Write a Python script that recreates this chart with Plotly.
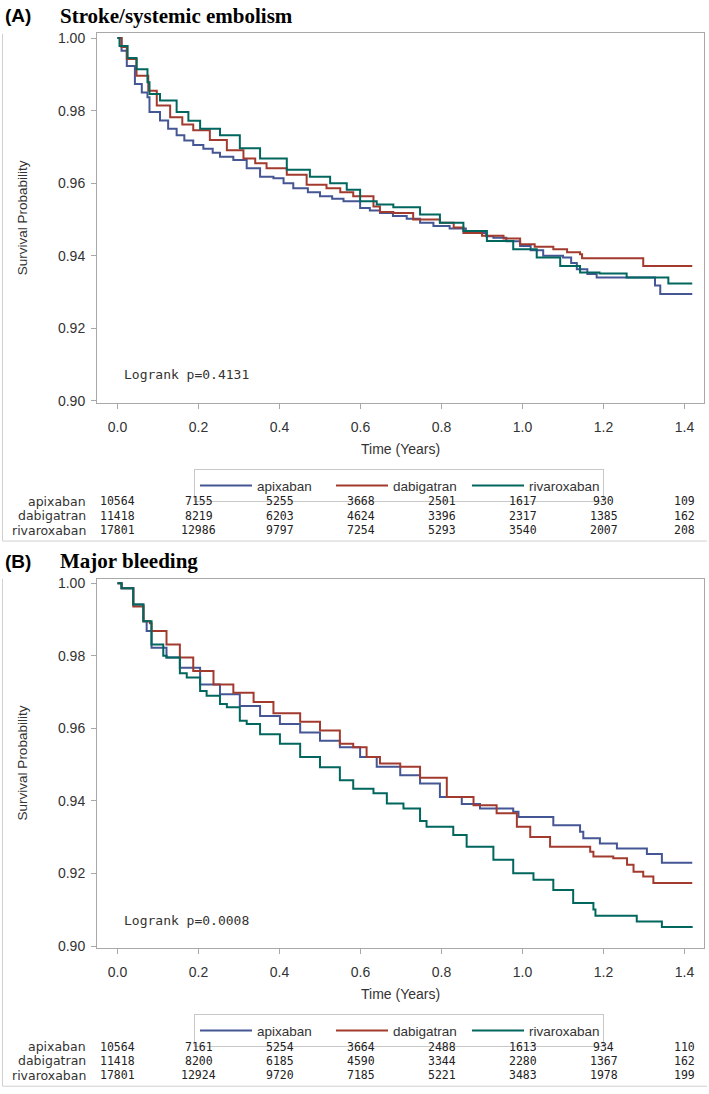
import plotly.graph_objects as go

W, H = 709, 1094


def px(x):
    return x / W


def py(y):
    return 1 - y / H


groups = ["apixaban", "dabigatran", "rivaroxaban"]
colors = ["#445694", "#A23A2E", "#01665E"]

# ---------------- Panel A: Stroke/systemic embolism ----------------
a_apix_t = [0, 0.01, 0.023, 0.043, 0.06, 0.074, 0.079, 0.105, 0.125, 0.146, 0.165, 0.187, 0.212, 0.235,
            0.253, 0.286, 0.319, 0.352, 0.385, 0.41, 0.434, 0.47, 0.5, 0.53, 0.558, 0.599, 0.623, 0.648,
            0.68, 0.714, 0.747, 0.78, 0.82, 0.86, 0.895, 0.91, 0.928, 0.96, 0.994, 1.02, 1.051, 1.1,
            1.12, 1.134, 1.16, 1.183, 1.327, 1.34, 1.419]
a_apix_s = [1.0, 0.9965, 0.9923, 0.9873, 0.9850, 0.9837, 0.9796, 0.9773, 0.9750, 0.9732, 0.9718, 0.9705,
            0.9695, 0.9684, 0.9673, 0.9664, 0.9641, 0.9618, 0.9614, 0.9600, 0.9586, 0.9575, 0.9564, 0.9557,
            0.9550, 0.9532, 0.9525, 0.9518, 0.9510, 0.9502, 0.9491, 0.9482, 0.9475, 0.9468, 0.9463, 0.9454,
            0.9450, 0.9440, 0.9427, 0.9415, 0.9400, 0.9395, 0.9380, 0.9363, 0.9350, 0.9340, 0.9318, 0.9295,
            0.9295]

a_dabi_t = [0, 0.01, 0.023, 0.047, 0.076, 0.097, 0.13, 0.16, 0.187, 0.228, 0.27, 0.311, 0.34, 0.368,
            0.418, 0.467, 0.516, 0.55, 0.582, 0.632, 0.648, 0.681, 0.73, 0.796, 0.83, 0.854, 0.9, 0.953,
            0.994, 1.03, 1.076, 1.11, 1.142, 1.147, 1.278, 1.298, 1.419]
a_dabi_s = [1.0, 0.9975, 0.9942, 0.9896, 0.9855, 0.9814, 0.9782, 0.9762, 0.9746, 0.9719, 0.9691, 0.9668,
            0.9655, 0.9641, 0.9623, 0.9596, 0.9586, 0.9575, 0.9564, 0.9536, 0.9521, 0.9518, 0.9500, 0.9491,
            0.9478, 0.9463, 0.9455, 0.9448, 0.9432, 0.9425, 0.9418, 0.9410, 0.9404, 0.9393, 0.9393, 0.9372,
            0.9372]

a_riva_t = [0, 0.005, 0.025, 0.047, 0.074, 0.079, 0.105, 0.146, 0.175, 0.204, 0.253, 0.302, 0.352, 0.418,
            0.475, 0.525, 0.566, 0.599, 0.64, 0.681, 0.747, 0.796, 0.854, 0.912, 0.977, 1.035, 1.093,
            1.142, 1.19, 1.257, 1.36, 1.419]
a_riva_s = [1.0, 0.9978, 0.9945, 0.9914, 0.9878, 0.9846, 0.9828, 0.9796, 0.9772, 0.9750, 0.9732, 0.9696,
            0.9668, 0.9637, 0.9618, 0.9600, 0.9582, 0.9550, 0.9541, 0.9534, 0.9514, 0.9491, 0.9468, 0.9441,
            0.9418, 0.9395, 0.9372, 0.9354, 0.9351, 0.9340, 0.9324, 0.9324]

# ---------------- Panel B: Major bleeding ----------------
b_apix_t = [0, 0.01, 0.039, 0.064, 0.072, 0.084, 0.121, 0.154, 0.204, 0.253, 0.302, 0.352, 0.401, 0.451,
            0.5, 0.549, 0.599, 0.64, 0.698, 0.747, 0.796, 0.85, 0.895, 0.977, 0.99, 1.076, 1.142, 1.15,
            1.191, 1.233, 1.307, 1.344, 1.419]
b_apix_s = [1.0, 0.9986, 0.9941, 0.9895, 0.9868, 0.9822, 0.9795, 0.9767, 0.9721, 0.9694, 0.9662, 0.9634,
            0.9612, 0.9589, 0.9566, 0.9548, 0.9521, 0.9494, 0.9471, 0.9448, 0.9411, 0.9392, 0.9379, 0.9370,
            0.9356, 0.9333, 0.9315, 0.9297, 0.9283, 0.9269, 0.9254, 0.9230, 0.9230]

b_dabi_t = [0, 0.01, 0.039, 0.064, 0.08, 0.084, 0.121, 0.154, 0.187, 0.237, 0.286, 0.336, 0.385, 0.451,
            0.5, 0.549, 0.582, 0.615, 0.648, 0.698, 0.747, 0.813, 0.879, 0.936, 0.986, 1.019, 1.068, 1.167,
            1.175, 1.224, 1.258, 1.274, 1.298, 1.323, 1.419]
b_dabi_s = [1.0, 0.9986, 0.9936, 0.9895, 0.9890, 0.9868, 0.9831, 0.9795, 0.9758, 0.9721, 0.9698, 0.9673,
            0.9642, 0.9618, 0.9594, 0.9558, 0.9548, 0.9521, 0.9503, 0.9494, 0.9464, 0.9411, 0.9388, 0.9366,
            0.9329, 0.9301, 0.9274, 0.9260, 0.9247, 0.9242, 0.9224, 0.9205, 0.9192, 0.9174, 0.9174]

b_riva_t = [0, 0.01, 0.039, 0.064, 0.084, 0.113, 0.121, 0.154, 0.171, 0.204, 0.22, 0.253, 0.27, 0.302,
            0.319, 0.352, 0.401, 0.451, 0.5, 0.549, 0.582, 0.632, 0.665, 0.706, 0.747, 0.763, 0.829, 0.862,
            0.928, 0.977, 1.027, 1.076, 1.125, 1.175, 1.18, 1.282, 1.344, 1.42]
b_riva_s = [1.0, 0.9986, 0.9941, 0.9895, 0.9831, 0.9800, 0.9795, 0.9752, 0.9740, 0.9703, 0.9690, 0.9667,
            0.9658, 0.9621, 0.9612, 0.9584, 0.9558, 0.9521, 0.9493, 0.9457, 0.9434, 0.9421, 0.9393, 0.9379,
            0.9345, 0.9329, 0.9306, 0.9274, 0.9238, 0.9201, 0.9183, 0.9155, 0.9119, 0.9101, 0.9084, 0.9068,
            0.9053, 0.9053]

# ---------------- Numbers at risk ----------------
risk_times = [0.0, 0.2, 0.4, 0.6, 0.8, 1.0, 1.2, 1.4]
a_risk_apix = [10564, 7155, 5255, 3668, 2501, 1617, 930, 109]
a_risk_dabi = [11418, 8219, 6203, 4624, 3396, 2317, 1385, 162]
a_risk_riva = [17801, 12986, 9797, 7254, 5293, 3540, 2007, 208]
b_risk_apix = [10564, 7161, 5254, 3664, 2488, 1613, 934, 110]
b_risk_dabi = [11418, 8200, 6185, 4590, 3344, 2280, 1367, 162]
b_risk_riva = [17801, 12924, 9720, 7185, 5221, 3483, 1978, 199]

y_ticks = [0.90, 0.92, 0.94, 0.96, 0.98, 1.00]
titles = ["Stroke/systemic embolism", "Major bleeding"]
labels = ["(A)", "(B)"]
pvalues = ["Logrank p=0.4131", "Logrank p=0.0008"]

panels = [
    dict(curves=[(a_apix_t, a_apix_s), (a_dabi_t, a_dabi_s), (a_riva_t, a_riva_s)],
         risk=[a_risk_apix, a_risk_dabi, a_risk_riva], off=0.0),
    dict(curves=[(b_apix_t, b_apix_s), (b_dabi_t, b_dabi_s), (b_riva_t, b_riva_s)],
         risk=[b_risk_apix, b_risk_dabi, b_risk_riva], off=549.7),
]

fig = go.Figure()
annotations = []
shapes = []
TXT = "#333333"
AX = "#a8a8a8"
SANS = "Liberation Sans, Arial, sans-serif"

for i, p in enumerate(panels):
    sfx = "" if i == 0 else str(i + 1)
    off = p["off"]
    for g, (t, s), c in zip(groups, p["curves"], colors):
        fig.add_trace(go.Scatter(
            x=t, y=s, mode="lines", line=dict(color=c, width=2, shape="hv"),
            name=g, xaxis="x" + sfx, yaxis="y" + sfx,
            legend="legend" + sfx, showlegend=True, hoverinfo="skip"))

    ax = dict(range=[-0.0506, 1.448], domain=[px(97), px(704)], anchor="y" + sfx,
              tickvals=risk_times, tickformat=".1f", ticks="outside", ticklen=5,
              tickcolor=AX, tickwidth=1, showline=True, mirror=True, linecolor=AX,
              linewidth=1, showgrid=False, zeroline=False, ticklabelstandoff=6,
              tickfont=dict(family=SANS, size=14, color=TXT))
    ay = dict(range=[0.89945, 1.00126], domain=[py(403.3 + off), py(30.7 + off)],
              anchor="x" + sfx, tickvals=y_ticks, tickformat=".2f", ticks="outside",
              ticklen=5, tickcolor=AX, tickwidth=1, showline=True, mirror=True,
              linecolor=AX, linewidth=1, showgrid=False, zeroline=False,
              ticklabelstandoff=3, tickfont=dict(family=SANS, size=14, color=TXT))
    fig.update_layout({"xaxis" + sfx: ax, "yaxis" + sfx: ay})

    fig.update_layout({"legend" + sfx: dict(
        orientation="h", x=px(194), xanchor="left", y=py(470 + off), yanchor="top",
        bordercolor="#c8c8c8", borderwidth=1, bgcolor="white", itemwidth=52,
        entrywidth=69, entrywidthmode="pixels",
        font=dict(family=SANS, size=13.5, color=TXT), itemclick=False,
        itemdoubleclick=False, tracegroupgap=0)})

    # panel heading
    annotations.append(dict(text="<b>" + labels[i] + "</b>", xref="paper", yref="paper",
                            x=px(3), y=py(13 + off), xanchor="left", yanchor="middle",
                            showarrow=False, font=dict(family=SANS, size=19, color="black")))
    annotations.append(dict(text="<b>" + titles[i] + "</b>", xref="paper", yref="paper",
                            x=px(58), y=py(13 + off), xanchor="left", yanchor="middle",
                            showarrow=False,
                            font=dict(family="Liberation Serif, Times New Roman, serif",
                                      size=21, color="black")))
    # axis titles
    annotations.append(dict(text="Survival Probability", xref="paper", yref="paper",
                            x=px(22), y=py(217 + off), textangle=-90, xanchor="center",
                            yanchor="middle", showarrow=False,
                            font=dict(family=SANS, size=13.5, color=TXT)))
    annotations.append(dict(text="Time (Years)", xref="paper", yref="paper",
                            x=px(400), y=py(450 + off), xanchor="center", yanchor="middle",
                            showarrow=False, font=dict(family=SANS, size=14, color=TXT)))
    # logrank
    annotations.append(dict(text=pvalues[i], xref="paper", yref="paper",
                            x=px(122), y=py(375 + off), xanchor="left", yanchor="middle",
                            showarrow=False,
                            font=dict(family="DejaVu Sans Mono, monospace", size=13, color=TXT)))
    # risk table
    row_y = [502.5, 517, 531.5]
    for g, counts, ry in zip(groups, p["risk"], row_y):
        annotations.append(dict(text=g, xref="paper", yref="paper", x=px(87),
                                y=py(ry + off), xanchor="right", yanchor="middle",
                                showarrow=False, borderpad=0,
                                font=dict(family="DejaVu Sans, sans-serif", size=12.5,
                                          color=TXT)))
        for tv, n in zip(risk_times, counts):
            annotations.append(dict(text=str(n), xref="x" + sfx, yref="paper", x=tv,
                                    y=py(ry + off), xanchor="center", yanchor="middle",
                                    showarrow=False, borderpad=0,
                                    font=dict(family="DejaVu Sans Mono, monospace", size=11.5,
                                              color="#222222")))
    # outer image border (left + bottom)
    shapes.append(dict(type="line", xref="paper", yref="paper", x0=px(2.5), x1=px(2.5),
                       y0=py(31 + off), y1=py(542.5 + off), line=dict(color="#d0d0d0", width=1)))
    shapes.append(dict(type="line", xref="paper", yref="paper", x0=px(2.5), x1=px(707),
                       y0=py(542.5 + off), y1=py(542.5 + off), line=dict(color="#d0d0d0", width=1)))

fig.update_layout(width=W, height=H, margin=dict(l=0, r=0, t=0, b=0),
                  paper_bgcolor="white", plot_bgcolor="white",
                  annotations=annotations, shapes=shapes)

fig.write_html("out.html", config={"displayModeBar": False},
               post_script="document.body.style.margin='0';document.body.style.overflow='hidden';")
